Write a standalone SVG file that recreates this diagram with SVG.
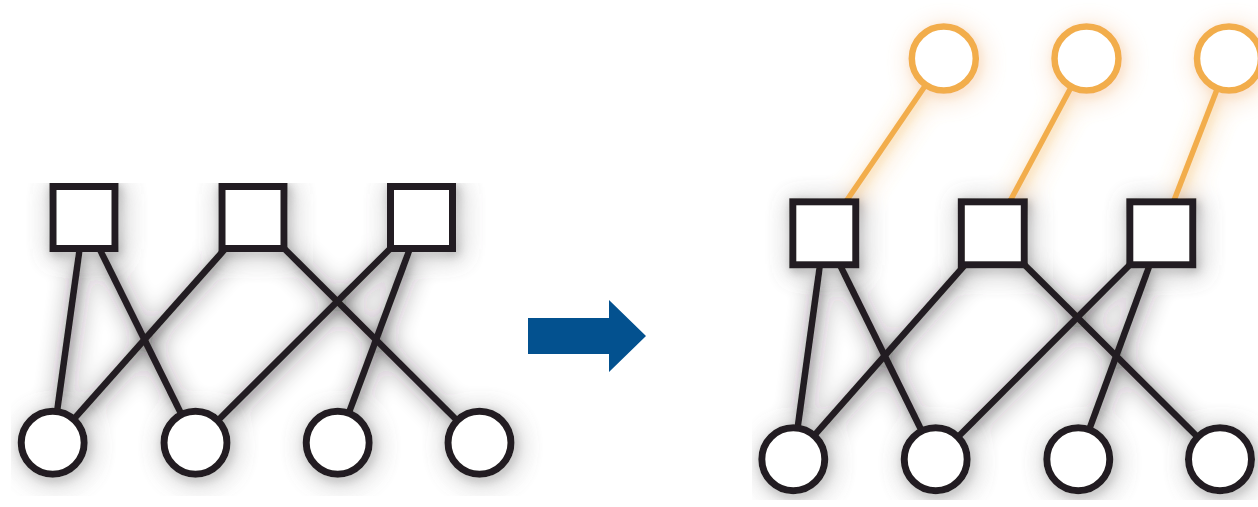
<svg xmlns="http://www.w3.org/2000/svg" width="1258" height="507" viewBox="0 0 1258 507">
  <defs>
    <style>
      .edge { stroke: #231f20; stroke-width: 6.5; stroke-linecap: butt; fill: none; }
      .link { stroke: #f2ad4c; stroke-width: 5.5; fill: none; }
      .sq { fill: #ffffff; stroke: #231f20; stroke-width: 7; }
      .ci { fill: #ffffff; stroke: #231f20; stroke-width: 7; }
      .oc { fill: #ffffff; stroke: #f2ad4c; stroke-width: 6.5; }
      .arrow { fill: #03518f; }
    </style>
    <!-- soft halo: a blurred, faded copy of the artwork beneath it -->
    <filter id="halo" x="-10%" y="-10%" width="120%" height="120%">
      <feGaussianBlur in="SourceGraphic" stdDeviation="5" result="near"/>
      <feGaussianBlur in="SourceGraphic" stdDeviation="12" result="far"/>
      <feOffset in="near" dx="2" dy="3" result="nearShift"/>
      <feOffset in="far" dx="3" dy="4" result="farShift"/>
      <feComponentTransfer in="nearShift" result="nearFaint">
        <feFuncA type="linear" slope="0.4"/>
      </feComponentTransfer>
      <feComponentTransfer in="farShift" result="farFaint">
        <feFuncA type="linear" slope="0.8"/>
      </feComponentTransfer>
      <feMerge>
        <feMergeNode in="farFaint"/>
        <feMergeNode in="nearFaint"/>
        <feMergeNode in="SourceGraphic"/>
      </feMerge>
    </filter>
    <clipPath id="clipLeft"><rect x="11" y="183" width="540" height="313"/></clipPath>
    <clipPath id="clipRight"><rect x="752" y="0" width="506" height="500"/></clipPath>
  </defs>

  <rect width="1258" height="507" fill="#ffffff"/>

  <!-- left: bipartite graph -->
  <g id="left-graph" clip-path="url(#clipLeft)">
    <g filter="url(#halo)">
      <g id="left-connectors">
        <line class="edge" x1="84" y1="217.5" x2="52.7" y2="442.8"/>
        <line class="edge" x1="84" y1="217.5" x2="195.5" y2="442.8"/>
        <line class="edge" x1="253" y1="217.5" x2="52.7" y2="442.8"/>
        <line class="edge" x1="253" y1="217.5" x2="479.5" y2="442.8"/>
        <line class="edge" x1="421.5" y1="217.5" x2="195.5" y2="442.8"/>
        <line class="edge" x1="421.5" y1="217.5" x2="337.7" y2="442.8"/>
      </g>
      <g id="L-s1"><rect class="sq" x="53" y="186.5" width="62" height="62"/></g>
      <g id="L-s2"><rect class="sq" x="222" y="186.5" width="62" height="62"/></g>
      <g id="L-s3"><rect class="sq" x="390.5" y="186.5" width="62" height="62"/></g>
      <g id="L-c1"><circle class="ci" cx="52.7" cy="442.8" r="31.5"/></g>
      <g id="L-c2"><circle class="ci" cx="195.5" cy="442.8" r="31.5"/></g>
      <g id="L-c3"><circle class="ci" cx="337.7" cy="442.8" r="31.5"/></g>
      <g id="L-c4"><circle class="ci" cx="479.5" cy="442.8" r="31.5"/></g>
    </g>
  </g>

  <!-- transformation arrow -->
  <g id="arrow">
    <polygon class="arrow" points="528,318 609,318 609,300 646,336 609,372 609,354 528,354"/>
  </g>

  <!-- right: same graph with an extra node attached to each square -->
  <g id="right-graph" clip-path="url(#clipRight)">
    <g filter="url(#halo)">
      <g id="right-connectors">
        <line class="link" x1="824.3" y1="233.3" x2="943.8" y2="58.5"/>
        <line class="link" x1="992.8" y1="233.3" x2="1086.5" y2="58.5"/>
        <line class="link" x1="1161.3" y1="233.3" x2="1229" y2="58.5"/>
        <line class="edge" x1="824.3" y1="233.3" x2="793.3" y2="459.2"/>
        <line class="edge" x1="824.3" y1="233.3" x2="935.7" y2="459.2"/>
        <line class="edge" x1="992.8" y1="233.3" x2="793.3" y2="459.2"/>
        <line class="edge" x1="992.8" y1="233.3" x2="1220" y2="459.2"/>
        <line class="edge" x1="1161.3" y1="233.3" x2="935.7" y2="459.2"/>
        <line class="edge" x1="1161.3" y1="233.3" x2="1078.3" y2="459.2"/>
      </g>
      <g id="R-o1"><circle class="oc" cx="943.8" cy="58.5" r="32"/></g>
      <g id="R-o2"><circle class="oc" cx="1086.5" cy="58.5" r="32"/></g>
      <g id="R-o3"><circle class="oc" cx="1229" cy="58.5" r="32"/></g>
      <g id="R-s1"><rect class="sq" x="792.8" y="201.8" width="63" height="63"/></g>
      <g id="R-s2"><rect class="sq" x="961.3" y="201.8" width="63" height="63"/></g>
      <g id="R-s3"><rect class="sq" x="1129.8" y="201.8" width="63" height="63"/></g>
      <g id="R-c1"><circle class="ci" cx="793.3" cy="459.2" r="31.5"/></g>
      <g id="R-c2"><circle class="ci" cx="935.7" cy="459.2" r="31.5"/></g>
      <g id="R-c3"><circle class="ci" cx="1078.3" cy="459.2" r="31.5"/></g>
      <g id="R-c4"><circle class="ci" cx="1220" cy="459.2" r="31.5"/></g>
    </g>
  </g>
</svg>
